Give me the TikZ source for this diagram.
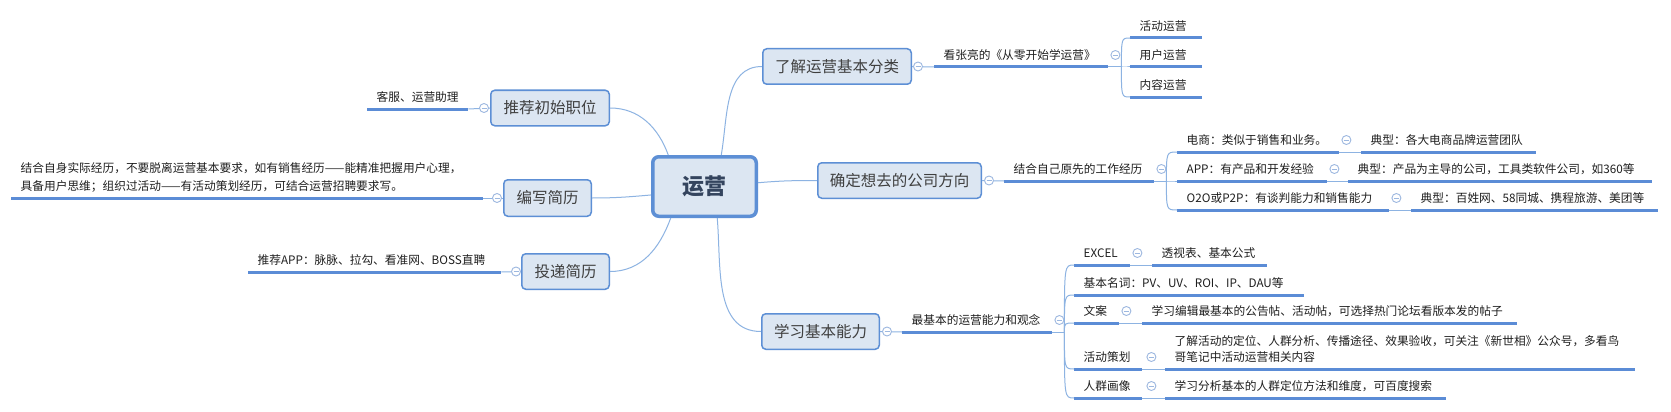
\documentclass[tikz,border=0pt]{standalone}
\usepackage{fontspec}
\setmainfont{Noto Sans CJK SC}
\usepackage{xcolor}
\usetikzlibrary{positioning}

\definecolor{mapfill}{HTML}{DCE6F2}
\definecolor{mapedge}{HTML}{5D8FD5}
\definecolor{mapline}{HTML}{5B8CD6}
\definecolor{mapthin}{HTML}{8DB3E2}
\definecolor{mapfold}{HTML}{9DB8E0}
\definecolor{maptext}{HTML}{3F3F3F}
\definecolor{roottext}{HTML}{34445E}

\begin{document}
\begin{tikzpicture}[x=1pt,y=1pt,
  root/.style={rectangle,rounded corners=6pt,draw=mapedge,line width=3.5pt,fill=mapfill,
    text=roottext,font=\fontsize{22}{26}\selectfont\bfseries,
    minimum width=103.5pt,minimum height=59.5pt},
  topic/.style={rectangle,rounded corners=4pt,draw=mapedge,line width=1.5pt,fill=mapfill,
    text=maptext,font=\fontsize{15.5}{18}\selectfont,minimum height=35.5pt,inner sep=0pt},
  leaf/.style={anchor=south west,inner xsep=9.5pt,inner ysep=2pt,align=left,
    font=\fontsize{11.7}{15.5}\selectfont,text=black!88,
    execute at end node={\rule[-5.5pt]{0pt}{5.5pt}}},
  under/.style={draw=mapline,line width=3pt},
  link/.style={draw=mapthin,line width=1pt},
  elbow/.style={to path={.. controls (\tikztostart |- \tikztotarget) .. (\tikztotarget) \tikztonodes}},
  fold/.style={circle,draw=mapfold,line width=0.9pt,fill=white,minimum size=9pt,inner sep=0pt,
    path picture={\draw[mapfold,line width=0.9pt]
      ([xshift=-2.5pt]path picture bounding box.center) -- ([xshift=2.5pt]path picture bounding box.center);}},
]
\path[fill=white,use as bounding box] (0,0) rectangle (1671,-412);

% centre and main topics
\node[root] (root) at (704.5,-186.5) {运营};
\node[topic,minimum width=148.5pt] (a) at (837,-66.5) {了解运营基本分类};
\node[topic,minimum width=118.5pt] (b) at (550,-108) {推荐初始职位};
\node[topic,minimum width=87.5pt,minimum height=36.5pt] (c) at (547.5,-198) {编写简历};
\node[topic,minimum width=87.5pt] (d) at (565.5,-271.5) {投递简历};
\node[topic,minimum width=163.5pt] (e) at (899.5,-180.5) {确定想去的公司方向};
\node[topic,minimum width=117.5pt] (f) at (820.5,-331.5) {学习基本能力};

% left side
\node[leaf,text width=82pt] (l1) at (367,-109) {客服、运营助理};
\node[leaf,text width=453pt,font=\fontsize{11.7}{18}\selectfont] (l2) at (11,-198)
  {结合自身实际经历，不要脱离运营基本要求，如有销售经历——能精准把握用户心理，\\具备用户思维；组织过活动——有活动策划经历，可结合运营招聘要求写。};
\node[leaf,text width=234pt] (l3) at (248,-272) {推荐APP：脉脉、拉勾、看准网、BOSS直聘};

% 了解运营基本分类
\node[leaf,text width=155pt] (n1) at (934,-67) {看张亮的《从零开始学运营》};
\node[leaf,text width=53pt] (n1a) at (1130,-38) {活动运营};
\node[leaf,text width=53pt] (n1b) at (1130,-67) {用户运营};
\node[leaf,text width=53pt] (n1c) at (1130,-97) {内容运营};

% 确定想去的公司方向
\node[leaf,text width=131pt] (n2) at (1004,-181) {结合自己原先的工作经历};
\node[leaf,text width=143pt] (n2a) at (1177,-152) {电商：类似于销售和业务。};
\node[leaf,text width=131pt] (n2b) at (1177,-181) {APP：有产品和开发经验};
\node[leaf,text width=193pt] (n2c) at (1177,-210) {O2O或P2P：有谈判能力和销售能力};
\node[leaf,text width=156pt] (n2a1) at (1361,-152) {典型：各大电商品牌运营团队};
\node[leaf,text width=285pt] (n2b1) at (1348,-181) {典型：产品为主导的公司，工具类软件公司，如360等};
\node[leaf,text width=228pt] (n2c1) at (1411,-210) {典型：百姓网、58同城、携程旅游、美团等};

% 学习基本能力
\node[leaf,text width=131pt] (n3) at (902,-332) {最基本的运营能力和观念};
\node[leaf,text width=37pt] (n3a) at (1074,-265) {EXCEL};
\node[leaf,text width=96pt] (n3a1) at (1152,-265) {透视表、基本公式};
\node[leaf,text width=211pt] (n3b) at (1074,-295) {基本名词：PV、UV、ROI、IP、DAU等};
\node[leaf,text width=26pt] (n3c) at (1074,-323) {文案};
\node[leaf,text width=356pt] (n3c1) at (1142,-323) {学习编辑最基本的公告帖、活动帖，可选择热门论坛看版本发的帖子};
\node[leaf,text width=49pt] (n3d) at (1074,-369) {活动策划};
\node[leaf,text width=451pt] (n3d1) at (1165,-369)
  {了解活动的定位、人群分析、传播途径、效果验收，可关注《新世相》公众号，多看鸟\\哥笔记中活动运营相关内容};
\node[leaf,text width=49pt] (n3e) at (1074,-398) {人群画像};
\node[leaf,text width=262pt] (n3e1) at (1165,-398) {学习分析基本的人群定位方法和维度，可百度搜索};

\foreach \n in {l1,l2,l3,n1,n1a,n1b,n1c,n2,n2a,n2b,n2c,n2a1,n2b1,n2c1,
    n3,n3a,n3a1,n3b,n3c,n3c1,n3d,n3d1,n3e,n3e1}
  \draw[under] (\n.south west) -- (\n.south east);

% branches from the centre
\draw[link] (root.62) to[out=80,in=180] (a.west);
\draw[link] (root.139) to[out=110,in=0] (b.east);
\draw[link] (root.189) to[out=185,in=0] (c.east);
\draw[link] (root.223) to[out=250,in=0] (d.east);
\draw[link] (root.4) to[out=5,in=180] (e.west);
\draw[link] (root.292) to[out=-85,in=180] (f.west);

\draw[link] (b.west) -- (l1.south east);
\draw[link] (c.west) -- (l2.south east);
\draw[link] (d.west) -- (l3.south east);
\draw[link] (a.east) -- (n1.south west);
\draw[link] (e.east) -- (n2.south west);
\draw[link] (f.east) -- (n3.south west);

\coordinate (j1) at ([xshift=13pt]n1.south east);
\coordinate (j2) at ([xshift=12pt]n2.south east);
\coordinate (j3) at ([xshift=12pt]n3.south east);
\draw[link] (n1.south east) -- (j1);
\draw[link] (n2.south east) -- (j2);
\draw[link] (n3.south east) -- (j3);
\foreach \n in {n1a,n1b,n1c} \draw[link] (j1) to[elbow] (\n.south west);
\foreach \n in {n2a,n2b,n2c} \draw[link] (j2) to[elbow] (\n.south west);
\foreach \n in {n3a,n3b,n3c,n3d,n3e} \draw[link] (j3) to[elbow] (\n.south west);

\foreach \n in {n2a,n2b,n2c,n3a,n3c,n3d,n3e}
  \draw[link] (\n.south east) -- (\n1.south west);

% fold markers
\node[fold] (fb) at ([xshift=-6pt]b.west) {};
\node[fold] (fc) at ([xshift=-6pt]c.west) {};
\node[fold] (fd) at ([xshift=-5pt]d.west) {};
\node[fold] (fa) at ([xshift=6pt]a.east) {};
\node[fold] (fe) at ([xshift=7pt]e.east) {};
\node[fold] (ff) at ([xshift=7pt]f.east) {};
\foreach \n in {n1,n2,n3,n2a,n2b,n2c,n3a,n3c}
  \node[fold] (f\n) at ([xshift=7pt,yshift=12pt]\n.south east) {};
\foreach \n in {n3d,n3e}
  \node[fold] (f\n) at ([xshift=9pt,yshift=12pt]\n.south east) {};
\end{tikzpicture}
\end{document}
